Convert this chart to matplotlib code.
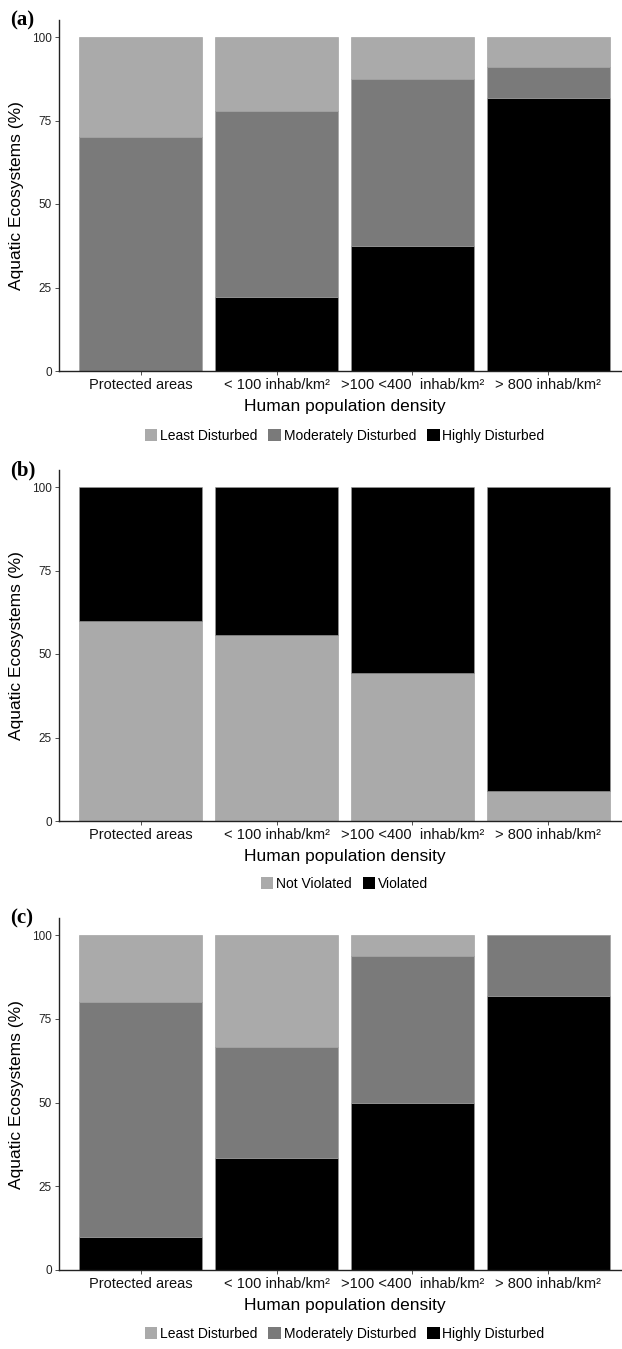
import matplotlib
matplotlib.use("Agg")
import matplotlib.pyplot as plt
from matplotlib.patches import Patch
import numpy as np

plt.rcParams["font.family"] = ["Liberation Sans", "DejaVu Sans"]

categories = ["Protected areas",
              "< 100 inhab/km\u00b2",
              ">100 <400  inhab/km\u00b2",
              "> 800 inhab/km\u00b2"]

# panel (a): disturbance class (%)
a_highly = [0, 22.2, 37.5, 81.8]
a_moderately = [70, 55.6, 50.0, 9.1]
a_least = [30, 22.2, 12.5, 9.1]

# panel (b): violation (%)
b_not_violated = [60, 55.6, 44.4, 9.1]
b_violated = [40, 44.4, 55.6, 90.9]

# panel (c): disturbance class (%)
c_highly = [10, 33.3, 50.0, 81.8]
c_moderately = [70, 33.3, 43.75, 18.2]
c_least = [20, 33.4, 6.25, 0]

LIGHT = "#aaaaaa"
MID = "#7a7a7a"
DARK = "#000000"

W, H = 622, 1349
fig = plt.figure(figsize=(W / 100, H / 100), dpi=100)


def make_ax(y_zero, y_hundred):
    top = y_hundred - (y_zero - y_hundred) * 0.05
    left = 59 / W
    right = 630 / W
    return fig.add_axes([left, 1 - y_zero / H, right - left, (y_zero - top) / H])


def draw_panel(ax, stacks, colors, leg_labels, leg_colors, tag, leg_y):
    x = np.arange(1, len(categories) + 1)
    bottom = np.zeros(len(categories))
    for vals, col in zip(stacks, colors):
        ax.bar(x, vals, bottom=bottom, width=0.9, color=col,
               edgecolor="#9a9a9a", linewidth=0.4)
        bottom += np.array(vals)
    ax.set_xlim(0.4, 4.6)
    ax.set_ylim(0, 105)
    ax.set_yticks([0, 25, 50, 75, 100])
    ax.set_xticks(x)
    ax.set_xticklabels(categories, fontsize=10.5)
    ax.tick_params(axis="y", labelsize=8.5, length=3, width=0.6, pad=2,
                   colors="#333333", labelcolor="#222222")
    ax.tick_params(axis="x", length=3, width=0.6, pad=2,
                   colors="#333333", labelcolor="#111111")
    for s in ["top", "right"]:
        ax.spines[s].set_visible(False)
    for s in ["left", "bottom"]:
        ax.spines[s].set_linewidth(1.0)
        ax.spines[s].set_color("#222222")
    ax.set_xlabel("Human population density", fontsize=12.5, labelpad=5)
    ax.set_ylabel("Aquatic Ecosystems (%)", fontsize=12.5, labelpad=6)
    ax.text(-0.085, 1.0, tag, transform=ax.transAxes, fontsize=15,
            fontweight="bold", family="Liberation Serif", ha="left", va="center")
    handles = [Patch(facecolor=c, edgecolor="none", label=l)
               for c, l in zip(leg_colors, leg_labels)]
    x_center = (59 + 630) / 2 / W
    fig.legend(handles=handles, loc="center",
               bbox_to_anchor=(x_center, 1 - leg_y / H),
               ncol=len(handles), frameon=False, fontsize=10,
               handlelength=0.9, handleheight=0.9, handletextpad=0.2,
               columnspacing=0.8)


dist_labels = ["Least Disturbed", "Moderately Disturbed", "Highly Disturbed"]

ax_a = make_ax(371, 37)
draw_panel(ax_a, [a_highly, a_moderately, a_least], [DARK, MID, LIGHT],
           dist_labels, [LIGHT, MID, DARK], "(a)", 436)

ax_b = make_ax(821, 487)
draw_panel(ax_b, [b_not_violated, b_violated], [LIGHT, DARK],
           ["Not Violated", "Violated"], [LIGHT, DARK], "(b)", 884)

ax_c = make_ax(1270, 935)
draw_panel(ax_c, [c_highly, c_moderately, c_least], [DARK, MID, LIGHT],
           dist_labels, [LIGHT, MID, DARK], "(c)", 1334)

fig.savefig("out.png", dpi=100)
